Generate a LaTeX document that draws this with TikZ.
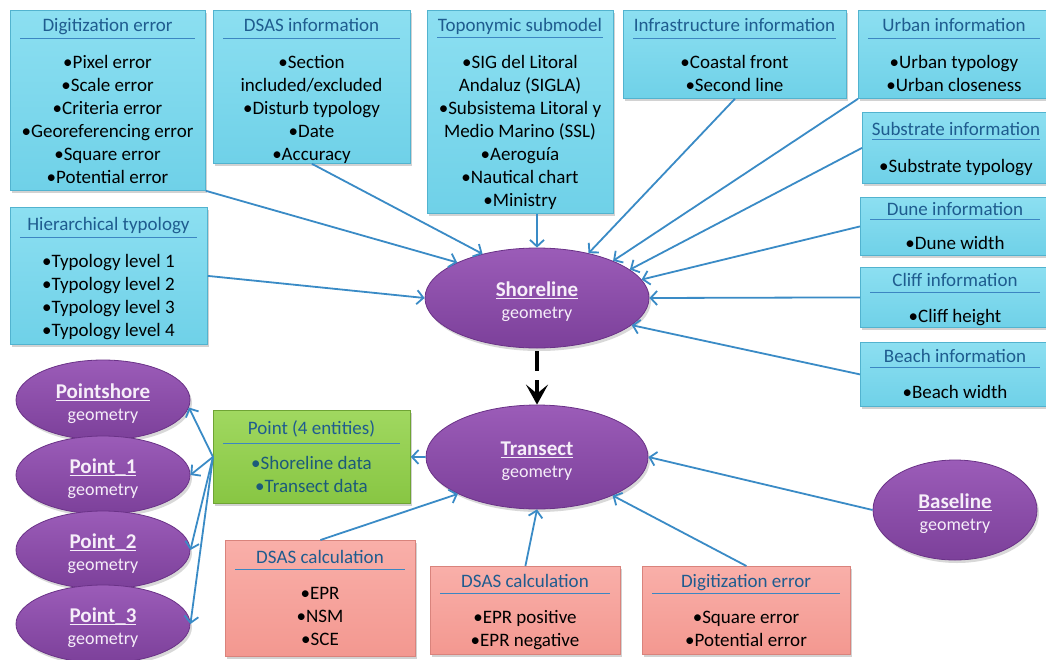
\documentclass[tikz,border=0pt]{standalone}
\usepackage{fontspec}
\setmainfont{Carlito}
\usetikzlibrary{shapes.geometric,arrows.meta,shadows,calc}

\definecolor{cyanA}{HTML}{8CDFF1}
\definecolor{cyanB}{HTML}{6FD1E8}
\definecolor{cyanE}{HTML}{52B3CF}
\definecolor{pinkA}{HTML}{F9AFA9}
\definecolor{pinkB}{HTML}{F39890}
\definecolor{pinkE}{HTML}{D9837C}
\definecolor{greenA}{HTML}{A0D860}
\definecolor{greenB}{HTML}{88C643}
\definecolor{greenE}{HTML}{6FA434}
\definecolor{purA}{HTML}{9B5CB8}
\definecolor{purB}{HTML}{7C409A}
\definecolor{purE}{HTML}{6A3287}
\definecolor{titleblue}{HTML}{1F5C8F}
\definecolor{ruleblue}{HTML}{3C86C2}
\definecolor{arrowblue}{HTML}{3A8BC6}
\definecolor{greentext}{HTML}{1C5A7A}
\definecolor{elltext}{HTML}{F6EEF9}

\newcommand{\myul}[1]{\setbox0\hbox{#1}\rlap{\rule[-3.2pt]{\wd0}{1.3pt}}\box0}

\tikzset{
  boxbase/.style={draw, line width=0.8pt, inner sep=0pt,
    drop shadow={shadow xshift=2pt, shadow yshift=-3pt, opacity=0.35}},
  cyanbox/.style={boxbase, draw=cyanE, top color=cyanA, bottom color=cyanB},
  pinkbox/.style={boxbase, draw=pinkE, top color=pinkA, bottom color=pinkB},
  greenbox/.style={boxbase, draw=greenE, top color=greenA, bottom color=greenB},
  ttl/.style={font=\fontsize{19}{22}\selectfont, text=titleblue, inner sep=0pt, anchor=base},
  itm/.style={font=\fontsize{19}{23}\selectfont, align=center, inner sep=0pt, anchor=north},
  seprule/.style={draw=ruleblue, line width=0.9pt},
  conn/.style={draw=arrowblue, line width=1.8pt, -{Straight Barb[length=6.5pt,width=14pt]}},
  bigarrow/.style={draw=black, line width=4.5pt, dash pattern=on 20pt off 9pt,
    shorten <=3pt, -{Stealth[length=20pt,width=22pt,inset=9pt]}},
  ell/.style={ellipse, draw=purE, line width=0.8pt, top color=purA, bottom color=purB,
    inner sep=0pt, drop shadow={shadow xshift=2pt, shadow yshift=-3pt, opacity=0.3}},
  ename/.style={font=\fontsize{21}{24}\selectfont\bfseries, text=elltext, anchor=base, inner sep=0pt},
  egeo/.style={font=\fontsize{18}{22}\selectfont, text=elltext, anchor=base, inner sep=0pt},
}

% name, style, x1, y1, x2, y2, title centre y, rule y, first item centre y
\newcommand{\ibox}[9]{%
  \def\ibN{#1}\def\ibXa{#3}\def\ibXb{#5}\def\ibT{#7}\def\ibR{#8}\def\ibI{#9}%
  \node[#2, anchor=north west, minimum width=#5-#3, minimum height=#6-#4] (#1) at (#3,#4) {};%
  \ibfinish}
% item colour, title, items
\newcommand{\ibfinish}[3]{%
  \node[ttl] (\ibN-t) at ({(\ibXa+\ibXb)/2},{\ibT+6}) {#2};%
  \draw[seprule] ({\ibXa+10},\ibR) -- ({\ibXb-10},\ibR);%
  \node[itm, text=#1] (\ibN-i) at ({(\ibXa+\ibXb)/2},{\ibI-10}) {\strut #3};}

% name, x, y, width, height, label
\newcommand{\ellnode}[6]{%
  \node[ell, minimum width=#4, minimum height=#5] (#1) at (#2,#3) {};%
  \node[ename] (#1-n) at (#2,{#3-2}) {\myul{#6}};%
  \node[egeo] (#1-g) at (#2,{#3+20}) {geometry};}

\begin{document}
\begin{tikzpicture}[x=1pt,y=-1pt]
\fill[white] (0,0) rectangle (1046,659);
\useasboundingbox (0,0) rectangle (1046,659);

% cyan boxes
\ibox{dig1}{cyanbox}{10}{10}{205}{190}{25}{38}{62}{black}{Digitization error}%
  {•Pixel error\\•Scale error\\•Criteria error\\•Georeferencing error\\•Square error\\•Potential error}
\ibox{dsas}{cyanbox}{213}{10}{410}{163}{25}{38}{62}{black}{DSAS information}%
  {•Section\\included/excluded\\•Disturb typology\\•Date\\•Accuracy}
\ibox{topo}{cyanbox}{427}{10}{613}{213}{25}{37}{62}{black}{Toponymic submodel}%
  {•SIG del Litoral\\Andaluz (SIGLA)\\•Subsistema Litoral y\\Medio Marino (SSL)\\•Aeroguía\\•Nautical chart\\•Ministry}
\ibox{infra}{cyanbox}{623}{10}{846}{98}{25}{38}{62}{black}{Infrastructure information}%
  {•Coastal front\\•Second line}
\ibox{urban}{cyanbox}{858}{10}{1050}{98}{25}{38}{62}{black}{Urban information}%
  {•Urban typology\\•Urban closeness}
\ibox{subs}{cyanbox}{862}{112}{1050}{183}{129}{139}{166}{black}{Substrate information}%
  {•Substrate typology}
\ibox{dune}{cyanbox}{860}{197}{1050}{255}{209}{219}{243}{black}{Dune information}%
  {•Dune width}
\ibox{cliff}{cyanbox}{860}{267}{1050}{327}{280}{292}{316}{black}{Cliff information}%
  {•Cliff height}
\ibox{beach}{cyanbox}{860}{342}{1050}{406}{356}{367}{392}{black}{Beach information}%
  {•Beach width}
\ibox{hier}{cyanbox}{10}{207}{207}{344}{224}{237}{261}{black}{Hierarchical typology}%
  {•Typology level 1\\•Typology level 2\\•Typology level 3\\•Typology level 4}

% green box
\ibox{pbox}{greenbox}{213}{410}{410}{503}{428}{443}{463}{greentext}{Point (4 entities)}%
  {•Shoreline data\\•Transect data}

% pink boxes
\ibox{calc1}{pinkbox}{225}{540}{415}{656}{557}{569}{593}{black}{DSAS calculation}%
  {•EPR\\•NSM\\•SCE}
\ibox{calc2}{pinkbox}{430}{566}{620}{654}{581}{593}{617}{black}{DSAS calculation}%
  {•EPR positive\\•EPR negative}
\ibox{dig2}{pinkbox}{642}{566}{850}{654}{581}{593}{617}{black}{Digitization error}%
  {•Square error\\•Potential error}

% ellipses
\ellnode{shore}{537}{298}{224}{100}{Shoreline}
\ellnode{trans}{537}{457}{222}{104}{Transect}
\ellnode{base}{955}{510}{164}{100}{Baseline}
\ellnode{pshore}{103}{400}{174}{80}{Pointshore}
\ellnode{p1}{103}{475}{174}{78}{Point\_1}
\ellnode{p2}{103}{550}{174}{78}{Point\_2}
\ellnode{p3}{103}{624}{174}{78}{Point\_3}

% connectors to Shoreline
\draw[conn] (dig1.south east) -- (shore.156);
\draw[conn] (dsas.south) -- (shore.141);
\draw[conn] (topo.south -| shore.north) -- (shore.north);
\draw[conn] (infra.south) -- (shore.41);
\draw[conn] (urban.south west) -- (shore.26);
\draw[conn] (subs.west) -- (shore.17);
\draw[conn] (dune.west) -- (shore.10);
\draw[conn] (cliff.west) -- (shore.east);
\draw[conn] (beach.west) -- (shore.-16);
\draw[conn] (hier.east) -- (shore.west);

% Shoreline to Transect
\draw[bigarrow] (shore.south) -- (trans.north);

% connectors around Transect
\draw[conn] (trans.west) -- (pbox.east);
\draw[conn] (pbox.west) -- (pshore.-5);
\draw[conn] (pbox.west) -- (p1.east);
\draw[conn] (pbox.west) -- (p2.east);
\draw[conn] (pbox.west) -- (p3.east);
\draw[conn] (base.west) -- (trans.east);
\draw[conn] (dig2.north) -- (trans.-27);
\draw[conn] (calc2.north) -- (trans.south);
\draw[conn] (calc1.north) -- (trans.205);
\end{tikzpicture}
\end{document}
